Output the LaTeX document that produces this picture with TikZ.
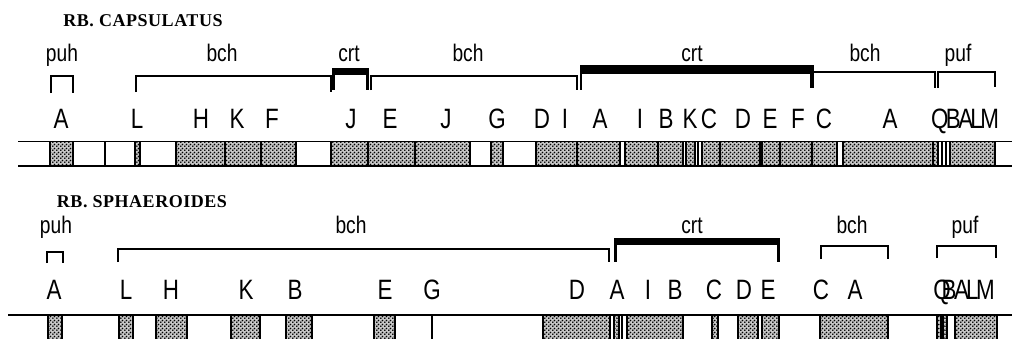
\documentclass[tikz,border=0pt]{standalone}
\usepackage{fontspec}
\setmainfont{Liberation Serif}
\newfontfamily\plotfont[FakeStretch=0.8]{Liberation Sans}
\newfontfamily\titlefont[LetterSpace=3]{Liberation Serif}
\usetikzlibrary{patterns}
\pgfdeclarepatternformonly{stip}{\pgfpointorigin}{\pgfqpoint{4pt}{4pt}}{\pgfqpoint{4pt}{4pt}}{%
  \pgfpathcircle{\pgfqpoint{1pt}{1pt}}{1.1pt}%
  \pgfpathcircle{\pgfqpoint{3pt}{3pt}}{1.1pt}%
  \pgfusepath{fill}}
\begin{document}
\begin{tikzpicture}[x=1pt,y=-1pt,
  gene/.style={font=\plotfont\fontsize{28}{28}\selectfont, anchor=base, inner sep=0pt},
  clus/.style={font=\plotfont\fontsize{24}{24}\selectfont, anchor=base, inner sep=0pt},
  ttl/.style={font=\titlefont\bfseries\fontsize{18}{18}\selectfont, anchor=base, inner sep=0pt},
  seg/.style={draw, line width=1.3pt, preaction={fill=black!22}, pattern=stip},
  wseg/.style={draw, line width=1.3pt},
  barline/.style={line width=1.6pt},
  br/.style={line width=1.3pt},
  thickbar/.style={fill=black},
  thickleg/.style={line width=3pt}]
\useasboundingbox (0,0) rectangle (1012,338);
\clip (0,0) rectangle (1012,338);

% ---------- titles ----------
\node[ttl] (t1) at (143,26) {RB. CAPSULATUS};
\node[ttl] (t2) at (142,207) {RB. SPHAEROIDES};

% ---------- row 1 cluster labels ----------
\node[clus] (c1a) at (62,61) {puh};
\node[clus] (c1b) at (222,61) {bch};
\node[clus] (c1c) at (349,61) {crt};
\node[clus] (c1d) at (468,61) {bch};
\node[clus] (c1e) at (692,61) {crt};
\node[clus] (c1f) at (865,61) {bch};
\node[clus] (c1g) at (958,61) {puf};

% ---------- row 1 brackets ----------
\draw[br] (51,93) |- (73,76) -- (73,93);
\draw[br] (136,92) |- (331,76) -- (331,92);
\draw[br] (371,90) |- (577,76) -- (577,90);
\fill[thickbar] (332,68) rectangle (369,75);
\draw[thickleg] (333.5,68) -- (333.5,90);
\draw[thickleg] (367.5,68) -- (367.5,90);
\fill[thickbar] (580,65) rectangle (814,74);
\draw[br] (581,70) -- (581,90);
\draw[line width=4pt] (812,70) -- (812,88);
\draw[br] (812,72) -- (935,72) -- (935,88);
\draw[br] (938,88) |- (995,72) -- (995,87);

% ---------- row 1 gene labels ----------
\foreach \x/\t [count=\i] in {61/A,137/L,201/H,237/K,272/F,351/J,390/E,446/J,497/G,542/D,565/I,600/A,640/I,666/B,690/K,709/C,743/D,770/E,798/F,824/C,890/A}
  \node[gene] (g1-\i) at (\x,128) {\t};
\node[gene] (g1-q) at (965,128) {Q\kern-2.5pt B\kern-2.5pt A\kern-3pt L\kern-2.5pt M};

% ---------- row 1 bar ----------
\draw[barline] (18,141.5) -- (1012,141.5);
\draw[barline] (18,166) -- (1012,166);
\foreach \a/\b in {50/73,135/140,176/225,225/261,261/296,331/368,368/415,415/470,491/503,536/577,577/620,625/658,658/683,686/695,702/720,720/760,762/780,780/812,812/837,843/933,933/938,950/995}
  \draw[seg] (\a,141.5) rectangle (\b,166);
\foreach \a in {105,698,942,946}
  \draw[wseg] (\a,141.5) -- (\a,166);

% ---------- row 2 cluster labels ----------
\node[clus] (c2a) at (56,233) {puh};
\node[clus] (c2b) at (351,233) {bch};
\node[clus] (c2c) at (692,233) {crt};
\node[clus] (c2d) at (852,233) {bch};
\node[clus] (c2e) at (965,233) {puf};

% ---------- row 2 brackets ----------
\draw[br] (47,263) |- (63,252) -- (63,263);
\draw[br] (118,262) |- (609,249) -- (609,262);
\fill[thickbar] (614,238) rectangle (780,245);
\draw[thickleg] (615.5,240) -- (615.5,262);
\draw[thickleg] (778.5,240) -- (778.5,262);
\draw[br] (821,259) |- (888,246) -- (888,259);
\draw[br] (937,258) |- (996,246) -- (996,258);

% ---------- row 2 gene labels ----------
\foreach \x/\t [count=\i] in {54/A,126/L,171/H,246/K,295/B,385/E,432/G,577/D,617/A,648/I,675/B,714/C,744/D,768/E,821/C,855/A}
  \node[gene] (g2-\i) at (\x,299) {\t};
\node[gene] (g2-q) at (964,299) {Q\kern-9pt B\kern-2.5pt A\kern-3pt L\kern-2.5pt M};

% ---------- row 2 bar ----------
\draw[barline] (8,315) -- (1012,315);
\foreach \a/\b in {48/62,119/133,156/187,231/260,286/312,374/395,543/610,614/619,627/683,712/718,738/758,762/779,820/888,937/941,943/947,955/997}
  \draw[seg] (\a,315) rectangle (\b,345);
\foreach \a in {432,622}
  \draw[wseg] (\a,315) -- (\a,345);
\end{tikzpicture}
\end{document}
